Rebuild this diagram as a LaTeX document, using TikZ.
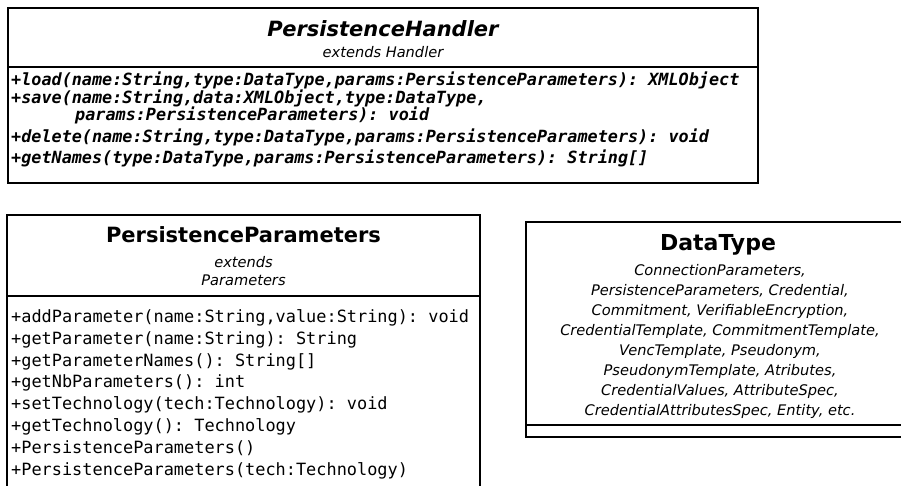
\documentclass[tikz,border=0pt]{standalone}
\usepackage{fontspec}
\setmainfont{DejaVu Sans}
\setmonofont{DejaVu Sans Mono}
\begin{document}
\begin{tikzpicture}[x=1pt,y=-1pt,
  box/.style={draw=black,line width=2.4pt},
  sepline/.style={draw=black,line width=2.2pt},
  ttl/.style={anchor=base,inner sep=0pt,font=\fontsize{21}{25}\selectfont\bfseries},
  sub/.style={anchor=base,inner sep=0pt,font=\fontsize{14.6}{18}\selectfont\itshape},
  opb/.style={anchor=base west,inner sep=0pt,font=\fontsize{16.8}{20}\selectfont\ttfamily\bfseries\itshape},
  opr/.style={anchor=base west,inner sep=0pt,font=\fontsize{16.9}{20}\selectfont\ttfamily}
]
\useasboundingbox (0,0) rectangle (901,486);
\clip (0,0) rectangle (901,486);

% PersistenceHandler
\draw[box] (8,8) rectangle (758,183);
\draw[sepline] (8,67) -- (758,67);
\node[ttl,font=\fontsize{21}{25}\selectfont\bfseries\itshape] (phT) at (383,36.5) {PersistenceHandler};
\node[sub] (phE) at (383,58) {extends Handler};
\node[opb] (ph1) at (11,86) {+load(name:String,type:DataType,params:PersistenceParameters): XMLObject};
\node[opb] (ph2) at (11,104) {+save(name:String,data:XMLObject,type:DataType,};
\node[opb] (ph2b) at (75,121) {params:PersistenceParameters): void};
\node[opb] (ph3) at (11,143) {+delete(name:String,type:DataType,params:PersistenceParameters): void};
\node[opb] (ph4) at (11,164) {+getNames(type:DataType,params:PersistenceParameters): String[]};

% PersistenceParameters
\draw[box] (7,215) rectangle (480,520);
\draw[sepline] (7,296) -- (480,296);
\node[ttl] (ppT) at (243.5,243) {PersistenceParameters};
\node[sub] (ppE1) at (243.5,267) {extends};
\node[sub] (ppE2) at (243.5,285.5) {Parameters};
\node[opr] (pp1) at (11,322.5) {+addParameter(name:String,value:String): void};
\node[opr] (pp2) at (11,344.3) {+getParameter(name:String): String};
\node[opr] (pp3) at (11,366.1) {+getParameterNames(): String[]};
\node[opr] (pp4) at (11,387.9) {+getNbParameters(): int};
\node[opr] (pp5) at (11,409.7) {+setTechnology(tech:Technology): void};
\node[opr] (pp6) at (11,431.5) {+getTechnology(): Technology};
\node[opr] (pp7) at (11,453.3) {+PersistenceParameters()};
\node[opr] (pp8) at (11,475.1) {+PersistenceParameters(tech:Technology)};

% DataType
\draw[box] (526,222) rectangle (914,437);
\draw[sepline] (526,425) -- (914,425);
\node[ttl,font=\fontsize{22}{26}\selectfont\bfseries] (dtT) at (718,250) {DataType};
\node[sub] (dt1) at (720,275) {ConnectionParameters,};
\node[sub] (dt2) at (720,295) {PersistenceParameters, Credential,};
\node[sub] (dt3) at (720,315) {Commitment, VerifiableEncryption,};
\node[sub] (dt4) at (720,335) {CredentialTemplate, CommitmentTemplate,};
\node[sub] (dt5) at (720,355) {VencTemplate, Pseudonym,};
\node[sub] (dt6) at (720,375) {PseudonymTemplate, Atributes,};
\node[sub] (dt7) at (720,395) {CredentialValues, AttributeSpec,};
\node[sub] (dt8) at (720,415) {CredentialAttributesSpec, Entity, etc.};
\end{tikzpicture}
\end{document}
